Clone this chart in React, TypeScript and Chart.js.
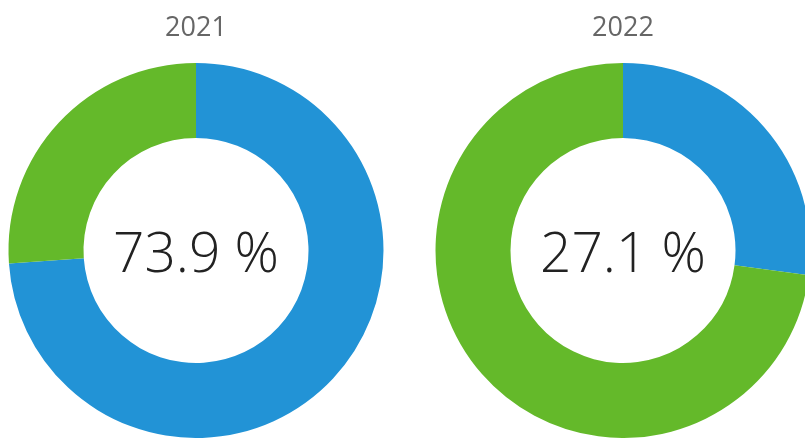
import React, { useEffect, useRef } from "react";
import { Chart, registerables } from "chart.js";

Chart.register(...registerables);

const years = ["2021", "2022"];
const segmentLabels = ["Anteil", "Rest"];
const shareValues = [73.9, 27.1];
const restValues = [26.1, 72.9];
const segmentColors = ["#2293d6", "#64b92a"];

const centerTextPlugin = {
  id: "centerText",
  afterDraw(chart: any, _args: any, opts: any) {
    const { ctx, chartArea } = chart;
    const cx = (chartArea.left + chartArea.right) / 2;
    const cy = (chartArea.top + chartArea.bottom) / 2;
    ctx.save();
    ctx.font = "300 55px 'Open Sans'";
    ctx.fillStyle = "#222";
    ctx.textAlign = "center";
    ctx.textBaseline = "alphabetic";
    ctx.fillText(opts.text, cx, cy + 21.5);
    ctx.restore();
  },
};

function Donut({ index, left }: { index: number; left: number }) {
  const ref = useRef<HTMLCanvasElement>(null);
  useEffect(() => {
    const chart = new Chart(ref.current!, {
      type: "doughnut",
      data: {
        labels: segmentLabels,
        datasets: [
          {
            data: [shareValues[index], restValues[index]],
            backgroundColor: segmentColors,
            borderWidth: 0,
          },
        ],
      },
      options: {
        animation: false,
        responsive: false,
        cutout: "60%",
        layout: { padding: 0 },
        plugins: {
          legend: { display: false },
          tooltip: { enabled: false },
          title: {
            display: true,
            text: years[index],
            color: "#666",
            font: { family: "'Open Sans'", size: 27, weight: "normal" as any, lineHeight: 1.2 },
            padding: { top: 12, bottom: 18.6 },
          },
          centerText: { text: shareValues[index].toFixed(1) + " %" },
        } as any,
      },
      plugins: [centerTextPlugin],
    });
    document.fonts?.ready.then(() => chart.update());
    return () => chart.destroy();
  }, [index]);
  return (
    <canvas
      ref={ref}
      width={392}
      height={438}
      style={{ position: "absolute", left, top: 0, width: 392, height: 438 }}
    />
  );
}

export default function App() {
  return (
    <div
      style={{
        position: "fixed",
        left: 0,
        top: 0,
        width: 805,
        height: 438,
        overflow: "hidden",
        background: "#fff",
      }}
    >
      <Donut index={0} left={0} />
      <Donut index={1} left={427} />
    </div>
  );
}
